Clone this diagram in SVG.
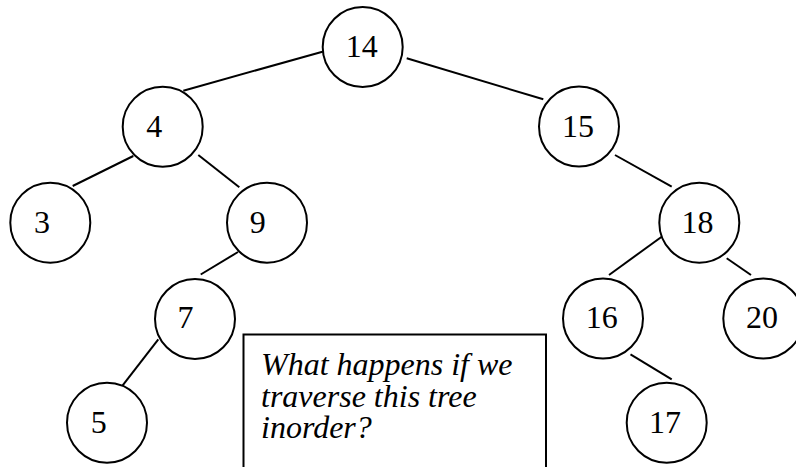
<svg xmlns="http://www.w3.org/2000/svg" width="796" height="467" viewBox="0 0 796 467">
  <style>
    .node circle { fill: #fff; stroke: #000; stroke-width: 2; }
    .node text { font-family: "Liberation Serif", "Times New Roman", serif; font-size: 32px; fill: #000; }
    .edges line { stroke: #000; stroke-width: 2; }
    .note rect { fill: #fff; stroke: #000; stroke-width: 2; }
    .note text { font-family: "Liberation Serif", "Times New Roman", serif; font-size: 32px; font-style: italic; fill: #000; }
  </style>
  <rect width="796" height="467" fill="#fff"/>

  <!-- tree edges -->
  <g id="edges" class="edges">
    <line x1="326" y1="50.7" x2="183.3" y2="90.7"/>
    <line x1="406.7" y1="58.3" x2="543.3" y2="99.3"/>
    <line x1="133.3" y1="156" x2="72.7" y2="186"/>
    <line x1="198.3" y1="155" x2="239.3" y2="187.3"/>
    <line x1="238" y1="252" x2="200.7" y2="274.5"/>
    <line x1="158.3" y1="339.3" x2="121.7" y2="386.7"/>
    <line x1="615" y1="155" x2="671.7" y2="186.7"/>
    <line x1="661.7" y1="236.7" x2="609" y2="275"/>
    <line x1="726.7" y1="258.3" x2="751" y2="275"/>
    <line x1="630.5" y1="354.3" x2="671.7" y2="379.3"/>
  </g>

  <!-- tree nodes -->
  <g id="node-14" class="node"><circle cx="362.7" cy="47" r="40"/><text x="345.8" y="57.3">14</text></g>
  <g id="node-4" class="node"><circle cx="162.7" cy="126.7" r="40"/><text x="146.3" y="137.3">4</text></g>
  <g id="node-15" class="node"><circle cx="579" cy="126.5" r="40"/><text x="562.1" y="137.3">15</text></g>
  <g id="node-3" class="node"><circle cx="50.3" cy="222.7" r="40"/><text x="34" y="233.3">3</text></g>
  <g id="node-9" class="node"><circle cx="267" cy="222.7" r="40"/><text x="249.7" y="232.7">9</text></g>
  <g id="node-18" class="node"><circle cx="699.3" cy="222.7" r="40"/><text x="681.4" y="233.3">18</text></g>
  <g id="node-7" class="node"><circle cx="195" cy="319" r="40"/><text x="177.4" y="328.3">7</text></g>
  <g id="node-16" class="node"><circle cx="603" cy="318.5" r="40"/><text x="585.8" y="328.3">16</text></g>
  <g id="node-20" class="node"><circle cx="763.3" cy="318.5" r="40"/><text x="746" y="328.3">20</text></g>
  <g id="node-5" class="node"><circle cx="107" cy="422.7" r="40"/><text x="90.7" y="433.3">5</text></g>
  <g id="node-17" class="node"><circle cx="666.7" cy="422.7" r="40"/><text x="649.1" y="432.7">17</text></g>

  <!-- question box -->
  <g id="note" class="note">
    <rect x="243.5" y="334.5" width="302.5" height="150"/>
    <text x="261" y="375">What happens if we</text>
    <text x="261" y="406.7">traverse this tree</text>
    <text x="261" y="438.3">inorder?</text>
  </g>
</svg>
